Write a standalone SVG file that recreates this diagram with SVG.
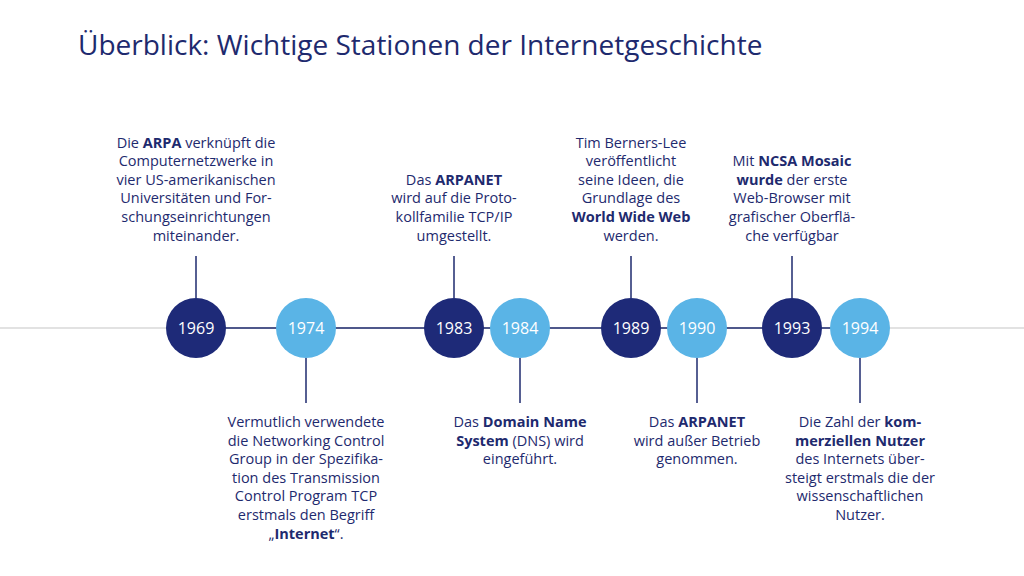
<svg xmlns="http://www.w3.org/2000/svg" width="1024" height="576" viewBox="0 0 1024 576">
<style>
text{font-family:"Open Sans","Liberation Sans",sans-serif;fill:#1e2a6e}
.t{font-size:14.5px;text-anchor:middle}
.b{font-weight:bold}
.y{font-size:16px;fill:#fff;text-anchor:middle}
.dk{fill:#1e2a78}.lt{fill:#5ab4e6}
.v{stroke:#1e2a6e;stroke-width:1.5}
</style>
<rect width="1024" height="576" fill="#fff"/>
<text x="78" y="55" style="font-size:28px">Überblick: Wichtige Stationen der Internetgeschichte</text>
<g id="connectors">
<line x1="0" y1="328" x2="1024" y2="328" stroke="#d8d8d8" stroke-width="1.5"/>
<line x1="196" y1="328" x2="860" y2="328" class="v"/>
<line x1="196" y1="256" x2="196" y2="298" class="v"/>
<line x1="454" y1="256" x2="454" y2="298" class="v"/>
<line x1="631" y1="256" x2="631" y2="298" class="v"/>
<line x1="792" y1="256" x2="792" y2="298" class="v"/>
<line x1="306" y1="358" x2="306" y2="403" class="v"/>
<line x1="520" y1="358" x2="520" y2="403" class="v"/>
<line x1="697" y1="358" x2="697" y2="403" class="v"/>
<line x1="860" y1="358" x2="860" y2="403" class="v"/>
</g>
<g id="n1969"><circle cx="196" cy="328" r="30" class="dk"/><text x="196" y="334" class="y">1969</text>
<text class="t" x="196" y="148">Die <tspan class="b">ARPA</tspan> verknüpft die</text>
<text class="t" x="196" y="166">Computernetzwerke in</text>
<text class="t" x="196" y="185">vier US-amerikanischen</text>
<text class="t" x="196" y="203">Universitäten und For-</text>
<text class="t" x="196" y="222">schungseinrichtungen</text>
<text class="t" x="196" y="241">miteinander.</text></g>
<g id="n1974"><circle cx="306" cy="328" r="30" class="lt"/><text x="306" y="334" class="y">1974</text>
<text class="t" x="306" y="427">Vermutlich verwendete</text>
<text class="t" x="306" y="446">die Networking Control</text>
<text class="t" x="306" y="464">Group in der Spezifika-</text>
<text class="t" x="306" y="483">tion des Transmission</text>
<text class="t" x="306" y="501">Control Program TCP</text>
<text class="t" x="306" y="520">erstmals den Begriff</text>
<text class="t" x="306" y="539">„<tspan class="b">Internet</tspan>“.</text></g>
<g id="n1983"><circle cx="454" cy="328" r="30" class="dk"/><text x="454" y="334" class="y">1983</text>
<text class="t" x="454" y="185">Das <tspan class="b">ARPANET</tspan></text>
<text class="t" x="454" y="203">wird auf die Proto-</text>
<text class="t" x="454" y="222">kollfamilie TCP/IP</text>
<text class="t" x="454" y="241">umgestellt.</text></g>
<g id="n1984"><circle cx="520" cy="328" r="30" class="lt"/><text x="520" y="334" class="y">1984</text>
<text class="t" x="520" y="427">Das <tspan class="b">Domain Name</tspan></text>
<text class="t" x="520" y="446"><tspan class="b">System</tspan> (DNS) wird</text>
<text class="t" x="520" y="464">eingeführt.</text></g>
<g id="n1989"><circle cx="631" cy="328" r="30" class="dk"/><text x="631" y="334" class="y">1989</text>
<text class="t" x="631" y="148">Tim Berners-Lee</text>
<text class="t" x="631" y="166">veröffentlicht</text>
<text class="t" x="631" y="185">seine Ideen, die</text>
<text class="t" x="631" y="203">Grundlage des</text>
<text class="t b" x="631" y="222">World Wide Web</text>
<text class="t" x="631" y="241">werden.</text></g>
<g id="n1990"><circle cx="697" cy="328" r="30" class="lt"/><text x="697" y="334" class="y">1990</text>
<text class="t" x="697" y="427">Das <tspan class="b">ARPANET</tspan></text>
<text class="t" x="697" y="446">wird außer Betrieb</text>
<text class="t" x="697" y="464">genommen.</text></g>
<g id="n1993"><circle cx="792" cy="328" r="30" class="dk"/><text x="792" y="334" class="y">1993</text>
<text class="t" x="792" y="166">Mit <tspan class="b">NCSA Mosaic</tspan></text>
<text class="t" x="792" y="185"><tspan class="b">wurde</tspan> der erste</text>
<text class="t" x="792" y="203">Web-Browser mit</text>
<text class="t" x="792" y="222">grafischer Oberflä-</text>
<text class="t" x="792" y="241">che verfügbar</text></g>
<g id="n1994"><circle cx="860" cy="328" r="30" class="lt"/><text x="860" y="334" class="y">1994</text>
<text class="t" x="860" y="427">Die Zahl der <tspan class="b">kom-</tspan></text>
<text class="t b" x="860" y="446">merziellen Nutzer</text>
<text class="t" x="860" y="464">des Internets über-</text>
<text class="t" x="860" y="483">steigt erstmals die der</text>
<text class="t" x="860" y="501">wissenschaftlichen</text>
<text class="t" x="860" y="520">Nutzer.</text></g>
</svg>
